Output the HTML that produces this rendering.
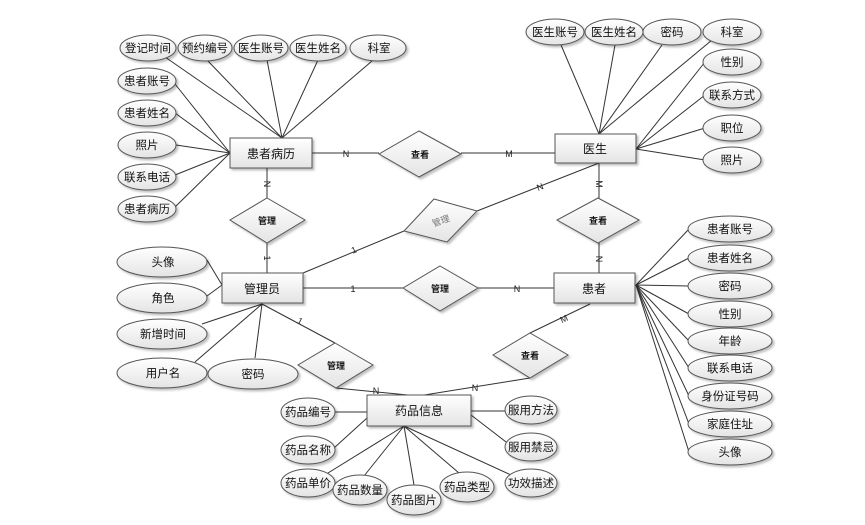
<!DOCTYPE html>
<html><head><meta charset="utf-8"><style>
html,body{margin:0;padding:0;background:#fff;}
svg{display:block;font-family:"Liberation Sans","Noto Sans CJK SC",sans-serif;}
</style></head><body>
<svg width="865" height="525" viewBox="0 0 865 525" xmlns="http://www.w3.org/2000/svg">
<defs>
<linearGradient id="g" x1="0" y1="0" x2="0" y2="1"><stop offset="0" stop-color="#ffffff"/><stop offset="1" stop-color="#e4e4e4"/></linearGradient>
<filter id="s" x="-10%" y="-10%" width="130%" height="140%"><feDropShadow dx="2" dy="2" stdDeviation="1" flood-color="#000" flood-opacity="0.25"/></filter>
</defs>
<rect width="865" height="525" fill="#fff"/>
<g stroke="#333" stroke-width="1" fill="none">
<!-- 患者病历 attrs -->
<line x1="165" y1="57" x2="282" y2="138"/><line x1="207" y1="60" x2="282" y2="138"/><line x1="267" y1="60" x2="282" y2="138"/><line x1="318" y1="60" x2="282" y2="138"/><line x1="372" y1="61" x2="282" y2="138"/>
<line x1="175" y1="84" x2="230" y2="153"/><line x1="175" y1="113" x2="230" y2="153"/><line x1="176" y1="145" x2="230" y2="153"/><line x1="175" y1="175" x2="230" y2="153"/><line x1="175" y1="207" x2="230" y2="153"/>
<!-- 医生 attrs -->
<line x1="561" y1="45" x2="599" y2="134"/><line x1="615" y1="45" x2="599" y2="134"/><line x1="662" y1="45" x2="599" y2="134"/><line x1="712" y1="40" x2="599" y2="134"/>
<line x1="705" y1="62" x2="636" y2="149"/><line x1="705" y1="95" x2="636" y2="149"/><line x1="705" y1="128" x2="636" y2="149"/><line x1="705" y1="160" x2="636" y2="149"/>
<!-- relations -->
<line x1="312" y1="153" x2="379" y2="153"/><line x1="461" y1="153" x2="555" y2="153"/>
<line x1="267" y1="168" x2="267" y2="198"/><line x1="267" y1="243" x2="267" y2="273"/>
<line x1="599" y1="163" x2="599" y2="198"/><line x1="599" y1="243" x2="599" y2="273"/>
<line x1="303" y1="273" x2="404" y2="231"/><line x1="477" y1="211" x2="599" y2="163"/>
<line x1="303" y1="288" x2="403" y2="288"/><line x1="478" y1="288" x2="554" y2="288"/>
<line x1="262" y1="304" x2="335" y2="343"/><line x1="336" y1="388" x2="418" y2="396"/>
<line x1="590" y1="304" x2="530" y2="333"/><line x1="530" y1="378" x2="418" y2="396"/>
<!-- 管理员 attrs -->
<line x1="207" y1="260" x2="222" y2="285"/><line x1="207" y1="296" x2="222" y2="285"/>
<line x1="202" y1="324" x2="262" y2="304"/><line x1="195" y1="362" x2="262" y2="304"/><line x1="255" y1="358" x2="262" y2="304"/>
<!-- 患者 attrs -->
<g><line x1="689" y1="229" x2="636" y2="285"/><line x1="689" y1="258" x2="636" y2="285"/><line x1="689" y1="286" x2="636" y2="285"/><line x1="689" y1="314" x2="636" y2="285"/><line x1="689" y1="341" x2="636" y2="285"/><line x1="689" y1="368" x2="636" y2="285"/><line x1="689" y1="396" x2="636" y2="285"/><line x1="689" y1="424" x2="636" y2="285"/><line x1="689" y1="452" x2="636" y2="285"/></g>
<!-- drug attrs -->
<line x1="335" y1="412" x2="367" y2="412"/><line x1="334" y1="448" x2="367" y2="418"/><line x1="328" y1="473" x2="404" y2="426"/><line x1="364" y1="476" x2="404" y2="426"/><line x1="414" y1="485" x2="404" y2="426"/><line x1="459" y1="473" x2="404" y2="426"/><line x1="511" y1="475" x2="404" y2="426"/>
<line x1="471" y1="411" x2="505" y2="411"/><line x1="471" y1="415" x2="510" y2="445"/>
</g>
<!-- cardinality labels -->
<g font-size="9" fill="#222" text-anchor="middle">
<text x="346" y="157">N</text><text x="509" y="157">M</text>
<text x="267" y="187" transform="rotate(90 267 184)">N</text>
<text x="267" y="261" transform="rotate(90 267 258)">1</text>
<text x="599" y="187" transform="rotate(90 599 184)">M</text>
<text x="599" y="262" transform="rotate(90 599 259)">N</text>
<text x="354" y="253" transform="rotate(-22 354 250)">1</text>
<text x="540" y="190" transform="rotate(-22 540 187)">N</text>
<text x="353" y="292">1</text><text x="517" y="292">N</text>
<text x="300" y="324" transform="rotate(28 300 321)">1</text>
<text x="376" y="394">N</text><text x="475" y="391">N</text>
<text x="564" y="322" transform="rotate(-25 564 319)">M</text>
</g>
<!-- rects -->
<g fill="url(#g)" stroke="#555" filter="url(#s)">
<rect x="230" y="138" width="82" height="30"/>
<rect x="555" y="134" width="81" height="29"/>
<rect x="222" y="273" width="81" height="30"/>
<rect x="554" y="273" width="81" height="30"/>
<rect x="367" y="395" width="104" height="31"/>
</g>
<g font-size="12" fill="#111" text-anchor="middle">
<text x="271" y="158">患者病历</text><text x="595" y="153">医生</text><text x="262" y="293">管理员</text><text x="594" y="293">患者</text><text x="419" y="415">药品信息</text>
</g>
<!-- diamonds -->
<g fill="url(#g)" stroke="#555" filter="url(#s)">
<polygon points="419,131 461,154 419,177 379,154"/>
<polygon points="267,198 305,220 267,243 230,220"/>
<polygon points="598,198 639,220 598,243 557,220"/>
<polygon points="440,266 478,288 440,311 403,288"/>
<polygon points="335,343 373,365 336,388 298,365"/>
<polygon points="530,333 568,355 530,378 493,355"/>
<polygon points="434,199 477,211 447,242 404,231"/>
</g>
<g font-size="9" font-weight="bold" fill="#111" text-anchor="middle">
<text x="420" y="158">查看</text><text x="267" y="224">管理</text><text x="598" y="224">查看</text><text x="440" y="292">管理</text><text x="336" y="369">管理</text><text x="530" y="359">查看</text>
<text x="441" y="224" fill="#777" font-weight="normal" transform="rotate(-20 441 221)">管理</text>
</g>
<!-- ellipses -->
<g fill="url(#g)" stroke="#555" filter="url(#s)">
<ellipse cx="148" cy="48" rx="28" ry="13"/><ellipse cx="205" cy="48" rx="27" ry="13"/><ellipse cx="261" cy="48" rx="27" ry="13"/><ellipse cx="318" cy="48" rx="28" ry="13"/><ellipse cx="378" cy="48" rx="28" ry="13"/>
<ellipse cx="147" cy="81" rx="29" ry="13"/><ellipse cx="147" cy="113" rx="29" ry="13"/><ellipse cx="147" cy="145" rx="29" ry="13"/><ellipse cx="147" cy="177" rx="29" ry="13"/><ellipse cx="147" cy="209" rx="29" ry="13"/>
<ellipse cx="555" cy="32" rx="29" ry="13"/><ellipse cx="614" cy="32" rx="29" ry="13"/><ellipse cx="672" cy="32" rx="29" ry="13"/><ellipse cx="732" cy="32" rx="29" ry="13"/><ellipse cx="732" cy="62" rx="29" ry="13"/><ellipse cx="732" cy="95" rx="29" ry="13"/><ellipse cx="732" cy="128" rx="29" ry="13"/><ellipse cx="732" cy="160" rx="29" ry="13"/>
<ellipse cx="730" cy="229" rx="42" ry="13"/><ellipse cx="730" cy="258" rx="42" ry="13"/><ellipse cx="730" cy="286" rx="42" ry="13"/><ellipse cx="730" cy="314" rx="42" ry="13"/><ellipse cx="730" cy="341" rx="42" ry="13"/><ellipse cx="730" cy="368" rx="42" ry="13"/><ellipse cx="730" cy="396" rx="42" ry="13"/><ellipse cx="730" cy="424" rx="42" ry="13"/><ellipse cx="730" cy="452" rx="42" ry="13"/>
<ellipse cx="162" cy="262" rx="45" ry="15"/><ellipse cx="162" cy="298" rx="45" ry="15"/><ellipse cx="162" cy="334" rx="45" ry="15"/><ellipse cx="162" cy="373" rx="45" ry="15"/><ellipse cx="253" cy="374" rx="45" ry="15"/>
<ellipse cx="308" cy="412" rx="27" ry="14"/><ellipse cx="308" cy="450" rx="27" ry="14"/><ellipse cx="308" cy="483" rx="27" ry="14"/><ellipse cx="360" cy="490" rx="27" ry="15"/><ellipse cx="414" cy="500" rx="27" ry="15"/><ellipse cx="467" cy="487" rx="27" ry="15"/><ellipse cx="531" cy="410" rx="26" ry="14"/><ellipse cx="531" cy="447" rx="26" ry="14"/><ellipse cx="531" cy="483" rx="26" ry="14"/>
</g>
<g font-size="11.5" fill="#111" text-anchor="middle">
<text x="148" y="52">登记时间</text><text x="205" y="52">预约编号</text><text x="261" y="52">医生账号</text><text x="318" y="52">医生姓名</text><text x="379" y="52">科室</text>
<text x="147" y="85">患者账号</text><text x="147" y="117">患者姓名</text><text x="147" y="149">照片</text><text x="147" y="181">联系电话</text><text x="147" y="213">患者病历</text>
<text x="555" y="36">医生账号</text><text x="614" y="36">医生姓名</text><text x="672" y="36">密码</text><text x="732" y="36">科室</text><text x="732" y="66">性别</text><text x="732" y="99">联系方式</text><text x="732" y="132">职位</text><text x="732" y="164">照片</text>
<text x="730" y="233">患者账号</text><text x="730" y="262">患者姓名</text><text x="730" y="290">密码</text><text x="730" y="318">性别</text><text x="730" y="345">年龄</text><text x="730" y="372">联系电话</text><text x="730" y="400">身份证号码</text><text x="730" y="428">家庭住址</text><text x="730" y="456">头像</text>
<text x="163" y="266">头像</text><text x="163" y="302">角色</text><text x="163" y="338">新增时间</text><text x="163" y="377">用户名</text><text x="253" y="378">密码</text>
<text x="308" y="416">药品编号</text><text x="308" y="454">药品名称</text><text x="308" y="487">药品单价</text><text x="360" y="494">药品数量</text><text x="414" y="504">药品图片</text><text x="467" y="491">药品类型</text><text x="531" y="414">服用方法</text><text x="531" y="451">服用禁忌</text><text x="531" y="487">功效描述</text>
</g>
</svg>
</body></html>
